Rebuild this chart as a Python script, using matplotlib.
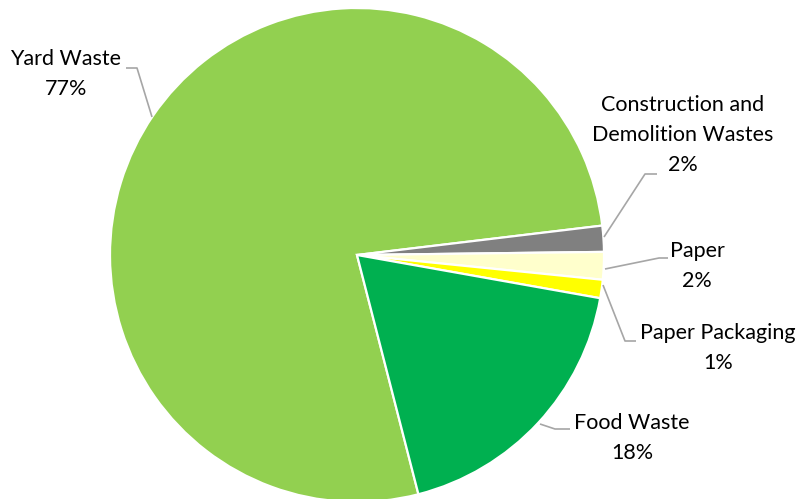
import matplotlib.pyplot as plt

# slice shares (clockwise from the bottom boundary)
categories = ["Yard Waste", "Construction and\nDemolition Wastes", "Paper",
              "Paper Packaging", "Food Waste"]
shares = [77.1, 1.7, 1.8, 1.2, 18.2]
colors = ["#92D050", "#808080", "#FFFFCC", "#FFFF00", "#00B050"]

W, H = 802, 499
plt.rcParams['font.family'] = ['Lato', 'DejaVu Sans']

fig = plt.figure(figsize=(W / 100, H / 100), dpi=100)
ax = fig.add_axes([0, 0, 1, 1])
ax.set_aspect('equal')

def Y(y):
    # image row -> data y
    return H - y

cx, cy, r = 357, 255, 247
ax.pie(shares, colors=colors, center=(cx, Y(cy)), radius=r,
       startangle=-75.6, counterclock=False,
       wedgeprops=dict(edgecolor='white', linewidth=1.6), frame=True)
ax.set_xlim(0, W)
ax.set_ylim(0, H)
ax.axis('off')

# label text centre (image px) and leader line points (image px)
label_pos = [(66, 74), (683, 135), (697, 266), (718, 348), (632, 438)]
leaders = [
    [(126, 68), (137, 68), (152, 117)],
    [(657, 174), (645, 174), (604, 237)],
    [(668, 258), (659, 258), (605, 269)],
    [(636, 341), (625, 341), (603, 285)],
    [(570, 429), (555, 429), (540, 424)],
]

for name, val, (tx, ty), pts in zip(categories, shares, label_pos, leaders):
    ax.text(tx, Y(ty), f"{name}\n{round(val)}%", ha='center', va='center',
            fontsize=15.5, color='black', linespacing=1.6)
    ax.plot([p[0] for p in pts], [Y(p[1]) for p in pts], color='#A6A6A6',
            linewidth=1.2, solid_capstyle='butt')

fig.savefig("out.png", dpi=100)
